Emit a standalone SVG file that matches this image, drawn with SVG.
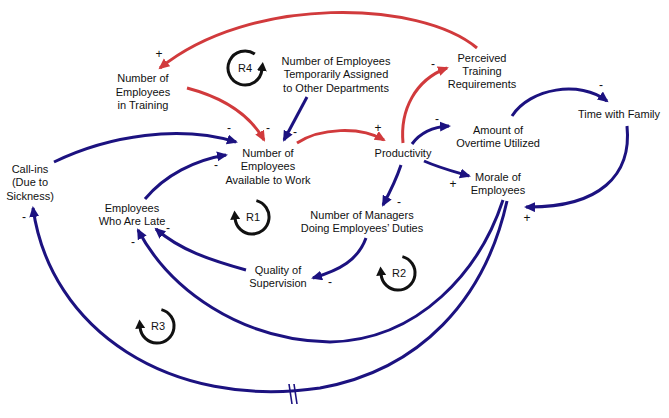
<svg xmlns="http://www.w3.org/2000/svg" width="669" height="418" viewBox="0 0 669 418">
<style>
text{font-family:"Liberation Sans",Arial,sans-serif;font-size:11px;fill:#111;text-anchor:middle}
.sg{font-size:12px}
.r{fill:none;stroke:#d13a3c;stroke-width:3}
.b{fill:none;stroke:#1c1280;stroke-width:3}
.lp{fill:none;stroke:#111;stroke-width:3}
.dl{stroke:#1c1280;stroke-width:1.6}
</style>
<defs>
<marker id="ar" markerUnits="userSpaceOnUse" markerWidth="13" markerHeight="11" refX="9" refY="5" orient="auto"><path d="M0,0 L11,5 L0,10 z" fill="#d13a3c"/></marker>
<marker id="ab" markerUnits="userSpaceOnUse" markerWidth="13" markerHeight="11" refX="9" refY="5" orient="auto"><path d="M0,0 L11,5 L0,10 z" fill="#1c1280"/></marker>
<marker id="ak" markerUnits="userSpaceOnUse" markerWidth="11" markerHeight="11" refX="1" refY="5" orient="auto"><path d="M0,0 L9,5 L0,10 z" fill="#111"/></marker>
</defs>
<g id="connectors">
<path class="r" marker-end="url(#ar)" d="M477 48 C420 0,250 -5,160 68"/>
<path class="r" marker-end="url(#ar)" d="M187 88 C225 98,250 115,264 140"/>
<path class="b" marker-end="url(#ab)" d="M307 97 L284 140"/>
<path class="b" marker-end="url(#ab)" d="M54 162 C110 135,180 125,236 142"/>
<path class="b" marker-end="url(#ab)" d="M145 199 C165 175,195 160,226 155"/>
<path class="r" marker-end="url(#ar)" d="M297 143 C320 128,360 126,384 140"/>
<path class="r" marker-end="url(#ar)" d="M403 143 C400 110,415 80,447 68"/>
<path class="b" marker-end="url(#ab)" d="M412 144 C420 133,432 127,449 126"/>
<path class="b" marker-end="url(#ab)" d="M424 161 C440 168,452 171,469 176"/>
<path class="b" marker-end="url(#ab)" d="M401 165 C396 180,390 192,383 205"/>
<path class="b" marker-end="url(#ab)" d="M366 238 C358 260,340 270,313 278"/>
<path class="b" marker-end="url(#ab)" d="M246 270 C210 260,180 250,156 229"/>
<path class="b" marker-end="url(#ab)" d="M503 200 C480 270,420 340,330 342 C240 340,170 290,138 230"/>
<path class="b" marker-end="url(#ab)" d="M507 201 C485 300,420 370,320 388 C170 410,50 330,33 208"/>
<line class="dl" x1="289" y1="384" x2="292" y2="404"/>
<line class="dl" x1="294" y1="384" x2="297" y2="404"/>
<path class="b" marker-end="url(#ab)" d="M512 116 C530 88,580 80,607 101"/>
<path class="b" marker-end="url(#ab)" d="M627 126 C632 175,600 208,526 207"/>
<text class="sg" x="159" y="58">+</text>
<text class="sg" x="268" y="132">-</text>
<text class="sg" x="295" y="136">-</text>
<text class="sg" x="229" y="132">-</text>
<text class="sg" x="216" y="169">-</text>
<text class="sg" x="378" y="132">+</text>
<text class="sg" x="433" y="68">-</text>
<text class="sg" x="437" y="123">-</text>
<text class="sg" x="453" y="188">+</text>
<text class="sg" x="399" y="206">-</text>
<text class="sg" x="330" y="286">-</text>
<text class="sg" x="168" y="232">-</text>
<text class="sg" x="133" y="246">-</text>
<text class="sg" x="24" y="221">-</text>
<text class="sg" x="601" y="89">-</text>
<text class="sg" x="527" y="222">+</text>
</g>
<g id="loop-R4">
<path class="lp" marker-end="url(#ak)" d="M254.8 54.1 A17 17 0 1 0 261.9 70"/>
<text x="245" y="72">R4</text>
</g>
<g id="loop-R1">
<path class="lp" marker-end="url(#ak)" d="M256.4 200.6 A17 17 0 1 1 235.1 218.5"/>
<text x="253" y="221">R1</text>
</g>
<g id="loop-R2">
<path class="lp" marker-end="url(#ak)" d="M402.4 256.6 A17 17 0 1 1 381.1 274.5"/>
<text x="399" y="277">R2</text>
</g>
<g id="loop-R3">
<path class="lp" marker-end="url(#ak)" d="M161.4 309.6 A17 17 0 1 1 140.1 327.5"/>
<text x="158" y="330">R3</text>
</g>
<g id="n-training"><text x="143" y="82">Number of</text><text x="143" y="96">Employees</text><text x="143" y="109">in Training</text></g>
<g id="n-assigned"><text x="336" y="65">Number of Employees</text><text x="336" y="78">Temporarily Assigned</text><text x="336" y="92">to Other Departments</text></g>
<g id="n-available"><text x="268" y="157">Number of</text><text x="268" y="170">Employees</text><text x="268" y="184">Available to Work</text></g>
<g id="n-productivity"><text x="403" y="157">Productivity</text></g>
<g id="n-perceived"><text x="482" y="62">Perceived</text><text x="482" y="75">Training</text><text x="482" y="88">Requirements</text></g>
<g id="n-overtime"><text x="498" y="134">Amount of</text><text x="498" y="147">Overtime Utilized</text></g>
<g id="n-family"><text x="619" y="118">Time with Family</text></g>
<g id="n-morale"><text x="498" y="181">Morale of</text><text x="498" y="194">Employees</text></g>
<g id="n-managers"><text x="362" y="219">Number of Managers</text><text x="362" y="232">Doing Employees’ Duties</text></g>
<g id="n-supervision"><text x="278" y="274">Quality of</text><text x="278" y="287">Supervision</text></g>
<g id="n-late"><text x="132" y="212">Employees</text><text x="132" y="225">Who Are Late</text></g>
<g id="n-callins"><text x="30" y="173">Call-ins</text><text x="30" y="186">(Due to</text><text x="30" y="200">Sickness)</text></g>
</svg>
